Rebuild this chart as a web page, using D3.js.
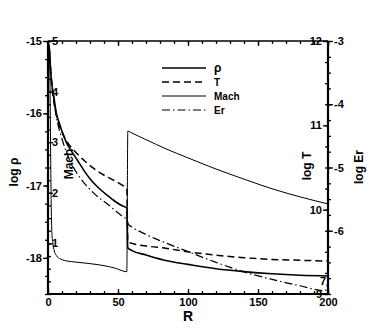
<!DOCTYPE html>
<html>
<head>
<meta charset="utf-8">
<script src="https://cdn.jsdelivr.net/npm/d3@7"></script>
<style>
  body { margin: 0; background: #fff; }
  text { font-family: "Liberation Sans", Arial, sans-serif; font-weight: bold; fill: #000; }
</style>
</head>
<body>
<div id="chart"></div>
<script>
// chart data
var rhoR   = [0.8, 1.5, 2.5, 4, 6, 8, 10, 13, 17, 21, 26, 31, 36, 42, 48, 53, 56.3, 57, 60, 70, 85, 100, 120, 140, 160, 180, 200];
var rhoLog = [-15.05, -15.3, -15.55, -15.75, -16.0, -16.13, -16.25, -16.4, -16.53, -16.65, -16.8, -16.93, -17.03, -17.13, -17.22, -17.28, -17.31, -17.86, -17.9, -17.96, -18.04, -18.09, -18.15, -18.19, -18.22, -18.24, -18.25];

var tR   = [0.8, 1.5, 2.5, 4, 6, 8, 10, 13, 17, 21, 26, 31, 36, 42, 48, 53, 56.3, 57, 60, 70, 85, 100, 120, 140, 160, 180, 200];
var tLog = [11.95, 11.75, 11.5, 11.3, 11.12, 11.0, 10.92, 10.82, 10.73, 10.66, 10.58, 10.51, 10.45, 10.39, 10.34, 10.29, 10.25, 9.62, 9.6, 9.57, 9.54, 9.5, 9.46, 9.43, 9.41, 9.4, 9.39];

var machR   = [1.2, 1.5, 1.8, 2.1, 2.4, 2.8, 3.5, 4.5, 6, 9, 14, 20, 30, 40, 48, 56.3, 57, 60, 70, 85, 100, 120, 140, 160, 180, 200];
var machVal = [4.8, 4.0, 3.0, 2.2, 1.6, 1.2, 1.0, 0.85, 0.76, 0.69, 0.65, 0.63, 0.6, 0.56, 0.51, 0.44, 3.22, 3.18, 3.05, 2.86, 2.69, 2.47, 2.27, 2.08, 1.92, 1.78];

var erR   = [0.8, 1.5, 2.5, 4, 6, 8, 10, 13, 17, 21, 26, 31, 36, 42, 48, 53, 56.3, 57.5, 60, 70, 85, 100, 120, 140, 160, 180, 198, 200];
var erLog = [-3.08, -3.3, -3.6, -3.9, -4.2, -4.4, -4.55, -4.75, -4.95, -5.1, -5.25, -5.37, -5.47, -5.57, -5.68, -5.77, -5.83, -5.9, -5.94, -6.06, -6.2, -6.33, -6.5, -6.65, -6.77, -6.87, -6.95, -6.8];

var xTicks    = [0, 50, 100, 150, 200];
var rhoTicks  = [-18, -17, -16, -15];
var machTicks = [1, 2, 3, 4, 5];
var tTicks    = [9, 10, 11, 12];
var erTicks   = [-6, -5, -4, -3];

var legendNames = ["\u03c1", "T", "Mach", "Er"];

var svgWidth = 374;
var svgHeight = 332;

// plot frame edges (pixels)
var plotLeft = 48, plotRight = 328, plotTop = 41, plotBottom = 294;

var svg = d3.select("#chart")
  .append("svg")
  .attr("width", svgWidth)
  .attr("height", svgHeight);

// scales
var xScale = d3.scaleLinear().domain([0, 200]).range([plotLeft, plotRight]);
var yRho  = d3.scaleLinear().domain([-18.5, -15]).range([plotBottom, plotTop]);
var yMach = d3.scaleLinear().domain([0, 5]).range([plotBottom, plotTop]);
var yT    = d3.scaleLinear().domain([9, 12]).range([plotBottom, plotTop]);
var yEr   = d3.scaleLinear().domain([-7, -3]).range([plotBottom, plotTop]);

function minorTicks(scale, step) {
  var d = scale.domain();
  var lo = Math.min(d[0], d[1]), hi = Math.max(d[0], d[1]);
  var out = [];
  for (var v = Math.ceil(lo / step) * step; v <= hi + 1e-9; v += step) {
    out.push(+v.toFixed(4));
  }
  return out;
}

function drawAxis(axis, tx, ty) {
  var g = svg.append("g")
    .attr("transform", "translate(" + tx + "," + ty + ")")
    .call(axis);
  g.select(".domain").remove();
  g.selectAll("line").attr("stroke", "#000").attr("stroke-width", 1.3);
  g.selectAll("text")
    .attr("font-size", "11px")
    .attr("font-family", "Liberation Sans, Arial, sans-serif")
    .attr("font-weight", "bold");
  return g;
}

var fmt = function(d) { return String(d); };

// x axis (ticks pointing in)
drawAxis(d3.axisBottom(xScale).tickValues(minorTicks(xScale, 10)).tickSize(-3).tickFormat(""), 0, plotBottom);
drawAxis(d3.axisBottom(xScale).tickValues(xTicks).tickSize(-5).tickPadding(4).tickFormat(fmt), 0, plotBottom);
drawAxis(d3.axisTop(xScale).tickValues(minorTicks(xScale, 10)).tickSize(-3).tickFormat(""), 0, plotTop);
drawAxis(d3.axisTop(xScale).tickValues(xTicks).tickSize(-5).tickFormat(""), 0, plotTop);

// log rho, outside on the left
drawAxis(d3.axisLeft(yRho).tickValues(minorTicks(yRho, 0.25)).tickSize(3).tickFormat(""), plotLeft, 0);
drawAxis(d3.axisLeft(yRho).tickValues(rhoTicks).tickSize(5).tickPadding(1).tickFormat(fmt), plotLeft, 0);

// Mach, inside on the left
drawAxis(d3.axisRight(yMach).tickValues(minorTicks(yMach, 0.25)).tickSize(3).tickFormat(""), plotLeft, 0);
drawAxis(d3.axisRight(yMach).tickValues(machTicks).tickSize(5).tickPadding(-1).tickFormat(fmt), plotLeft, 0);

// log T, inside on the right
drawAxis(d3.axisLeft(yT).tickValues(minorTicks(yT, 0.25)).tickSize(3).tickFormat(""), plotRight, 0);
drawAxis(d3.axisLeft(yT).tickValues(tTicks).tickSize(5).tickPadding(1).tickFormat(fmt), plotRight, 0);

// log Er, outside on the right
drawAxis(d3.axisRight(yEr).tickValues(minorTicks(yEr, 0.25)).tickSize(3).tickFormat(""), plotRight, 0);
drawAxis(d3.axisRight(yEr).tickValues(erTicks).tickSize(5).tickPadding(1).tickFormat(fmt), plotRight, 0);

// stray label near the bottom right corner
svg.append("text")
  .attr("x", 326).attr("y", 285)
  .attr("text-anchor", "end")
  .attr("font-size", "11px")
  .text("7");

// frame
svg.append("line").attr("x1", plotLeft).attr("x2", plotRight).attr("y1", plotTop).attr("y2", plotTop)
  .attr("stroke", "#000").attr("stroke-width", 1.5);
svg.append("line").attr("x1", plotLeft).attr("x2", plotRight).attr("y1", plotBottom).attr("y2", plotBottom)
  .attr("stroke", "#000").attr("stroke-width", 2.2);
svg.append("line").attr("x1", plotLeft).attr("x2", plotLeft).attr("y1", plotTop).attr("y2", plotBottom)
  .attr("stroke", "#000").attr("stroke-width", 2.2);
svg.append("line").attr("x1", plotRight).attr("x2", plotRight).attr("y1", plotTop).attr("y2", plotBottom)
  .attr("stroke", "#000").attr("stroke-width", 2.2);

// curves
function drawCurve(xs, ys, yScale, width, dash) {
  var pts = xs.map(function(r, i) { return [r, ys[i]]; });
  var line = d3.line()
    .x(function(d) { return xScale(d[0]); })
    .y(function(d) { return yScale(d[1]); })
    .curve(d3.curveMonotoneX);
  svg.append("path")
    .datum(pts)
    .attr("d", line)
    .attr("fill", "none")
    .attr("stroke", "#000")
    .attr("stroke-width", width)
    .attr("stroke-dasharray", dash);
}

var styles = [
  { w: 1.6, dash: null },
  { w: 1.5, dash: "7,4" },
  { w: 1.0, dash: null },
  { w: 1.2, dash: "8,3,1.5,3" }
];

drawCurve(rhoR, rhoLog, yRho, styles[0].w, styles[0].dash);
drawCurve(tR, tLog, yT, styles[1].w, styles[1].dash);
drawCurve(machR, machVal, yMach, styles[2].w, styles[2].dash);
drawCurve(erR, erLog, yEr, styles[3].w, styles[3].dash);

// legend
var legend = svg.append("g");
legendNames.forEach(function(name, i) {
  var ly = 68 + i * 14;
  legend.append("line")
    .attr("x1", 162).attr("x2", 206).attr("y1", ly).attr("y2", ly)
    .attr("stroke", "#000")
    .attr("stroke-width", styles[i].w)
    .attr("stroke-dasharray", styles[i].dash);
  legend.append("text")
    .attr("x", 214).attr("y", ly).attr("dy", "0.35em")
    .attr("font-size", i === 0 ? "12px" : "10px")
    .text(name);
});

// axis titles
svg.append("text")
  .attr("transform", "translate(14,172) rotate(-90)")
  .attr("text-anchor", "middle").attr("dy", "0.35em")
  .attr("font-size", "12px")
  .text("log \u03c1");

svg.append("text")
  .attr("transform", "translate(69,164) rotate(-90)")
  .attr("text-anchor", "middle").attr("dy", "0.35em")
  .attr("font-size", "12px")
  .text("Mach");

svg.append("text")
  .attr("transform", "translate(307,166) rotate(-90)")
  .attr("text-anchor", "middle").attr("dy", "0.35em")
  .attr("font-size", "12px")
  .text("log T");

svg.append("text")
  .attr("transform", "translate(359,167) rotate(-90)")
  .attr("text-anchor", "middle").attr("dy", "0.35em")
  .attr("font-size", "12px")
  .text("log Er");

svg.append("text")
  .attr("x", 188).attr("y", 321)
  .attr("text-anchor", "middle")
  .attr("font-size", "14px")
  .text("R");
</script>
</body>
</html>
